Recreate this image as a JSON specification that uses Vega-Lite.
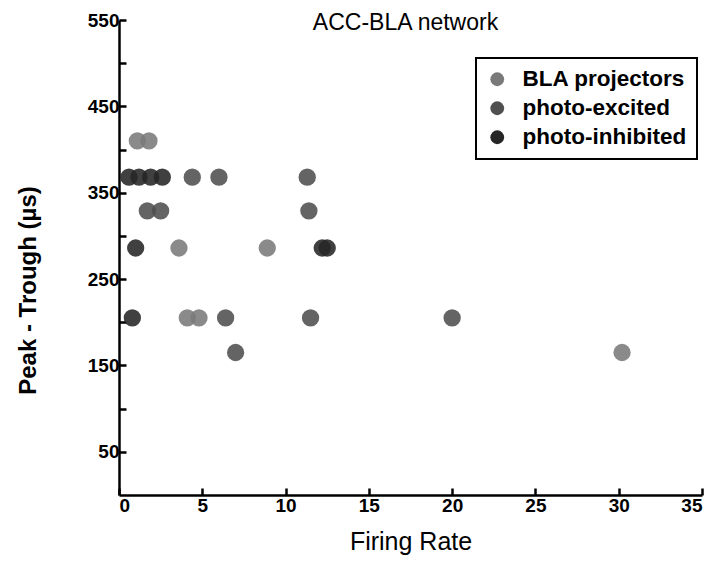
{
  "$schema": "https://vega.github.io/schema/vega-lite/v6.json",
  "width": 583,
  "height": 475,
  "autosize": {"type": "none"},
  "padding": {"left": 119, "top": 20, "right": 12, "bottom": 70},
  "background": "white",
  "config": {
    "view": {"stroke": null},
    "legend": {"strokeWidth": 2},
    "axis": {
      "domainColor": "black",
      "domainWidth": 2.5,
      "tickColor": "black",
      "tickWidth": 2.5,
      "tickSize": -7,
      "grid": false,
      "labelColor": "black",
      "labelFont": "Liberation Sans",
      "labelFontWeight": "bold",
      "labelFontSize": 19,
      "titleFont": "Liberation Sans",
      "titleFontSize": 24,
      "titleColor": "black"
    }
  },
  "data": {
    "values": [
      {"rate": 1.1, "pt": 410, "group": "BLA projectors"},
      {"rate": 1.8, "pt": 410, "group": "BLA projectors"},
      {"rate": 3.6, "pt": 286, "group": "BLA projectors"},
      {"rate": 8.9, "pt": 286, "group": "BLA projectors"},
      {"rate": 4.1, "pt": 205, "group": "BLA projectors"},
      {"rate": 4.8, "pt": 205, "group": "BLA projectors"},
      {"rate": 30.2, "pt": 165, "group": "BLA projectors"},
      {"rate": 4.4, "pt": 368, "group": "photo-excited"},
      {"rate": 6.0, "pt": 368, "group": "photo-excited"},
      {"rate": 11.3, "pt": 368, "group": "photo-excited"},
      {"rate": 1.7, "pt": 329, "group": "photo-excited"},
      {"rate": 2.5, "pt": 329, "group": "photo-excited"},
      {"rate": 11.4, "pt": 329, "group": "photo-excited"},
      {"rate": 6.4, "pt": 205, "group": "photo-excited"},
      {"rate": 11.5, "pt": 205, "group": "photo-excited"},
      {"rate": 20.0, "pt": 205, "group": "photo-excited"},
      {"rate": 7.0, "pt": 165, "group": "photo-excited"},
      {"rate": 0.6, "pt": 368, "group": "photo-inhibited"},
      {"rate": 1.2, "pt": 368, "group": "photo-inhibited"},
      {"rate": 1.9, "pt": 368, "group": "photo-inhibited"},
      {"rate": 2.6, "pt": 368, "group": "photo-inhibited"},
      {"rate": 1.0, "pt": 286, "group": "photo-inhibited"},
      {"rate": 12.2, "pt": 286, "group": "photo-inhibited"},
      {"rate": 12.5, "pt": 286, "group": "photo-inhibited"},
      {"rate": 0.8, "pt": 205, "group": "photo-inhibited"}
    ]
  },
  "layer": [
    {
      "mark": {"type": "circle", "size": 300, "opacity": 0.88},
      "encoding": {
        "x": {
          "field": "rate",
          "type": "quantitative",
          "title": "Firing Rate",
          "scale": {"domain": [0, 35], "nice": false, "zero": false},
          "axis": {"values": [0, 5, 10, 15, 20, 25, 30, 35], "labelPadding": 8, "titlePadding": 14, "titleFontWeight": "normal", "titleFontSize": 25}
        },
        "y": {
          "field": "pt",
          "type": "quantitative",
          "title": "Peak - Trough (µs)",
          "scale": {"domain": [0, 550], "nice": false},
          "axis": {
            "values": [50, 100, 150, 200, 250, 300, 350, 400, 450, 500, 550],
            "labelExpr": "datum.value % 100 == 50 ? datum.label : ''",
            "labelPadding": 7,
            "titleFontWeight": "bold",
            "titleFontSize": 24,
            "titleX": -91,
            "titleY": 270,
            "titleAlign": "center",
            "titleBaseline": "middle",
            "titleAngle": -90
          }
        },
        "color": {
          "field": "group",
          "type": "nominal",
          "title": null,
          "scale": {
            "domain": ["BLA projectors", "photo-excited", "photo-inhibited"],
            "range": ["#7a7a7a", "#4f4f4f", "#262626"]
          },
          "legend": {
            "orient": "none",
            "legendX": 357,
            "legendY": 38,
            "fillColor": "white",
            "strokeColor": "black",
            "padding": 10,
            "symbolType": "circle",
            "symbolSize": 190,
            "symbolOpacity": 1,
            "symbolStrokeWidth": 0,
            "labelFont": "Liberation Sans",
            "labelFontWeight": "bold",
            "labelFontSize": 22.5,
            "labelLimit": 400,
            "labelColor": "black",
            "labelOffset": 14,
            "rowPadding": 6
          }
        }
      }
    },
    {
      "data": {"values": [{"label": "ACC-BLA network"}]},
      "mark": {
        "type": "text",
        "font": "Liberation Sans",
        "fontSize": 23,
        "color": "black",
        "align": "center",
        "baseline": "middle",
        "dy": 3
      },
      "encoding": {
        "x": {"datum": 17.2, "type": "quantitative"},
        "y": {"datum": 550, "type": "quantitative"},
        "text": {"field": "label", "type": "nominal"}
      }
    }
  ]
}
